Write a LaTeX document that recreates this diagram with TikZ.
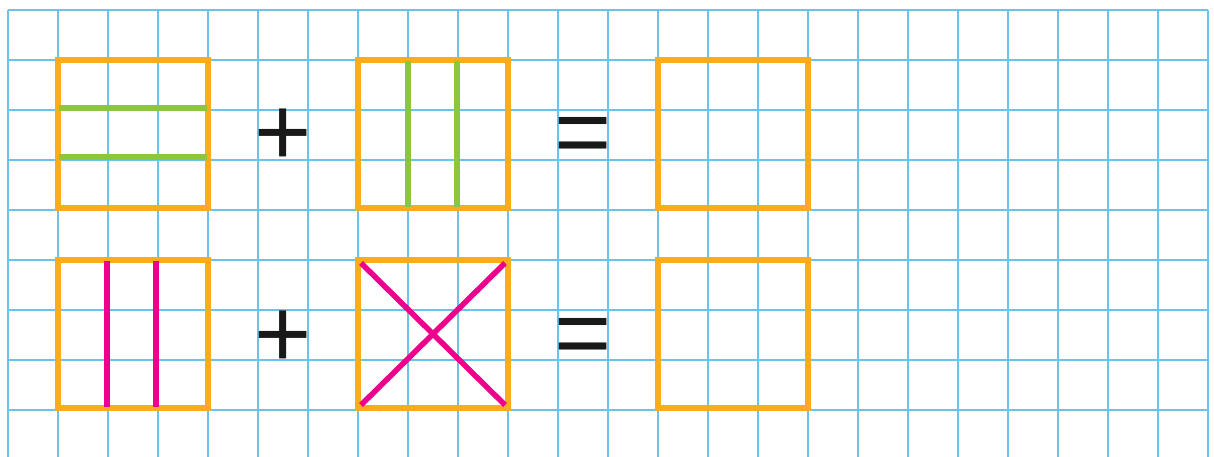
\documentclass[tikz,border=0pt]{standalone}
\usepackage{fontspec}
\setmainfont{Liberation Sans}
\definecolor{gridblue}{RGB}{105,195,234}
\definecolor{sqorange}{RGB}{250,172,26}
\definecolor{lgreen}{RGB}{140,198,63}
\definecolor{mpink}{RGB}{236,0,140}
\begin{document}
\begin{tikzpicture}[x=1pt,y=-1pt,
  gridline/.style={gridblue,line width=2.4pt},
  sq/.style={sqorange,line width=5.5pt},
  gline/.style={lgreen,line width=5.5pt},
  pline/.style={mpink,line width=5.5pt},
  sign/.style={anchor=base,inner sep=0pt,text=black!90,font=\fontsize{98}{98}\selectfont}]
\useasboundingbox (0,0) rectangle (1214,457);
\fill[white] (0,0) rectangle (1214,457);
% grid
\foreach \k in {0,...,24} \draw[gridline] (8+50*\k,10) -- (8+50*\k,457);
\foreach \k in {0,...,8} \draw[gridline] (8,10+50*\k) -- (1208,10+50*\k);
% squares
\draw[sq] (58,60) rectangle (208,208);
\draw[sq] (358,60) rectangle (508,208);
\draw[sq] (658,60) rectangle (808,208);
\draw[sq] (58,260) rectangle (208,408);
\draw[sq] (358,260) rectangle (508,408);
\draw[sq] (658,260) rectangle (808,408);
% inner lines
\draw[gline] (59,108) -- (207,108);
\draw[gline] (59,157) -- (207,157);
\draw[gline] (408,61) -- (408,207);
\draw[gline] (457,61) -- (457,207);
\draw[pline] (107,261) -- (107,407);
\draw[pline] (156,261) -- (156,407);
\draw[pline] (361,263) -- (505,405);
\draw[pline] (505,263) -- (361,405);
% signs
\node[sign] (plusA) at (283,166) {+};
\node[sign] (eqA) at (583,166) {=};
\node[sign] (plusB) at (283,367) {+};
\node[sign] (eqB) at (583,366) {=};
\end{tikzpicture}
\end{document}
